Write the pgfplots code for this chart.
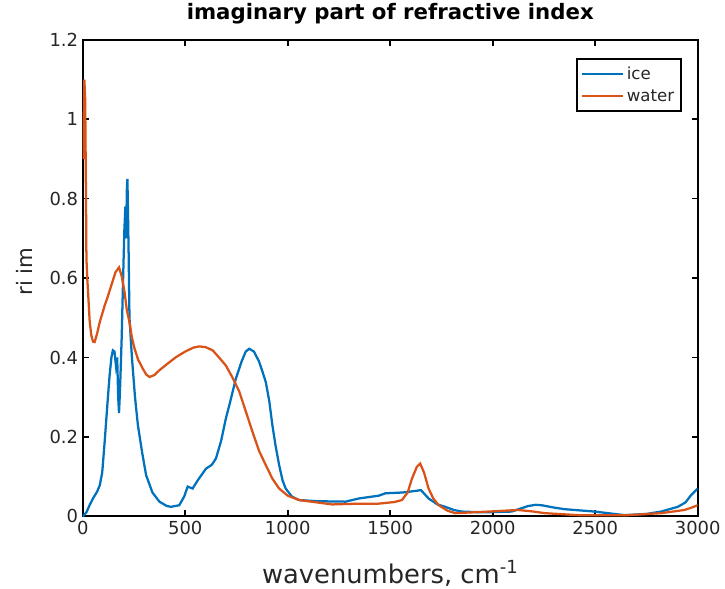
\documentclass[border=0pt]{standalone}
\usepackage{fontspec}
\setmainfont{DejaVu Sans}
\usepackage{pgfplots}
\pgfplotsset{compat=1.18}

\definecolor{mblue}{HTML}{0072BD}
\definecolor{morange}{HTML}{D95319}
\definecolor{mtext}{HTML}{262626}

\pgfplotstableread{
x y
0 0
18 0.01
35 0.03
50 0.045
70 0.062
83 0.078
95 0.11
107 0.188
120 0.28
131 0.355
140 0.40
147 0.418
155 0.415
162 0.38
168 0.40
173 0.30
177 0.26
182 0.32
190 0.45
197 0.60
203 0.72
208 0.78
212 0.70
215 0.82
218 0.85
221 0.76
224 0.66
228 0.50
240 0.40
255 0.30
269 0.23
290 0.16
309 0.104
340 0.06
374 0.037
410 0.026
431 0.024
471 0.028
495 0.05
512 0.075
536 0.07
560 0.09
601 0.12
630 0.13
650 0.146
675 0.19
698 0.246
720 0.29
747 0.347
775 0.39
795 0.415
812 0.422
835 0.415
860 0.39
877 0.364
893 0.338
910 0.29
925 0.23
940 0.18
958 0.129
975 0.09
990 0.07
1020 0.05
1055 0.041
1150 0.038
1282 0.037
1347 0.045
1444 0.052
1476 0.058
1560 0.06
1622 0.064
1650 0.066
1687 0.045
1730 0.03
1768 0.024
1810 0.016
1849 0.012
1950 0.010
2092 0.012
2173 0.026
2210 0.029
2238 0.028
2300 0.022
2351 0.018
2497 0.012
2643 0.003
2750 0.006
2821 0.012
2903 0.024
2940 0.035
2967 0.053
3000 0.07
}\icetable

\pgfplotstableread{
x y
2 0.90
8 1.10
12 1.05
16 0.80
18 0.65
22 0.60
26 0.565
34 0.49
42 0.456
50 0.44
58 0.439
70 0.46
83 0.489
95 0.51
107 0.531
120 0.55
139 0.581
160 0.615
177 0.627
190 0.605
204 0.565
215 0.52
228 0.489
240 0.45
253 0.422
270 0.395
293 0.372
310 0.357
326 0.351
350 0.356
374 0.368
410 0.383
455 0.401
500 0.415
540 0.425
569 0.428
600 0.426
634 0.418
665 0.40
698 0.38
730 0.35
763 0.315
795 0.265
828 0.213
860 0.165
893 0.129
925 0.095
958 0.07
1000 0.052
1055 0.041
1217 0.03
1350 0.032
1444 0.032
1520 0.036
1557 0.041
1585 0.06
1606 0.095
1630 0.125
1646 0.133
1665 0.11
1687 0.07
1710 0.045
1736 0.028
1780 0.014
1817 0.008
1900 0.010
1979 0.012
2124 0.016
2200 0.012
2254 0.008
2416 0.003
2659 0.003
2821 0.008
2935 0.016
2970 0.022
3000 0.028
}\watertable

\begin{document}
\begin{tikzpicture}
\begin{axis}[
  scale only axis,
  width=462.75pt, height=358.5pt,
  xmin=0, xmax=3000, ymin=0, ymax=1.2,
  xtick={0,500,...,3000},
  ytick={0,0.2,...,1.2},
  axis line style={black, line width=1.5pt},
  every tick/.style={black, line width=1.2pt},
  major tick length=4.5pt,
  tick align=inside,
  xtick pos=both, ytick pos=both,
  /pgf/number format/assume math mode=true,
  /pgf/number format/fixed,
  /pgf/number format/1000 sep={},
  ticklabel style={font=\fontsize{13.5}{15}\selectfont, text=mtext},
  title={imaginary part of refractive index},
  title style={font=\bfseries\fontsize{16}{18}\selectfont, at={(axis description cs:0.5,1.025)}, anchor=base, inner sep=0pt},
  xlabel={wavenumbers, cm\textsuperscript{-1}},
  xlabel style={font=\fontsize{19.4}{21}\selectfont, text=mtext, at={(axis description cs:0.5,-0.140)}, anchor=base, inner sep=0pt},
  ylabel={ri im},
  ylabel style={font=\fontsize{16}{18}\selectfont, text=mtext, at={(axis description cs:-0.081,0.514)}, anchor=base, inner sep=0pt},
  legend style={at={(axis description cs:0.974,0.962)}, anchor=north east,
    draw=black, line width=1.5pt, fill=white,
    font=\fontsize{12.5}{14}\selectfont, text=mtext,
    inner xsep=3pt, inner ysep=4pt, row sep=2pt},
  legend cell align=left,
  legend image code/.code={\draw[#1, line width=1.7pt] (0pt,0pt) -- (31pt,0pt);},
]
\addplot[mblue, line width=1.7pt] table[x=x, y=y] {\icetable};
\addlegendentry{ice}
\addplot[morange, line width=1.7pt] table[x=x, y=y] {\watertable};
\addlegendentry{water}
\end{axis}
% page frame around the axis box
\path (current axis.south west) ++(-62.25pt,-54pt) coordinate (pbl);
\path (current axis.north east) ++(18.75pt,30pt) coordinate (ptr);
\path[use as bounding box] (pbl) rectangle (ptr);
\end{tikzpicture}
\end{document}
